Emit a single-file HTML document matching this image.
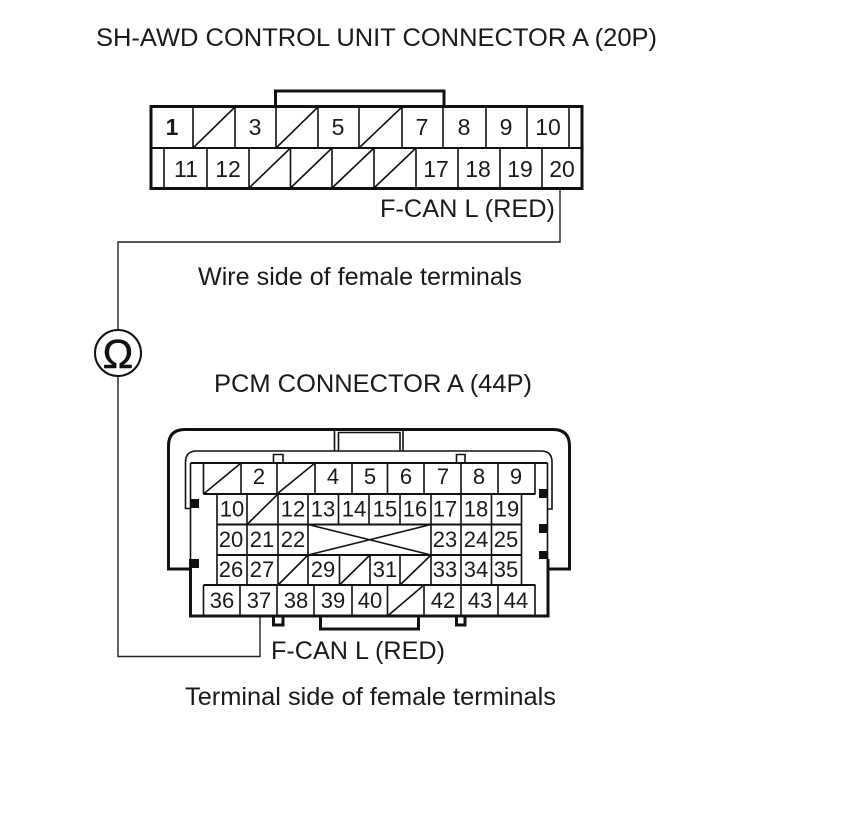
<!DOCTYPE html>
<html><head><meta charset="utf-8"><style>
html,body{margin:0;padding:0;background:#fff}
svg{display:block}
text{font-family:"Liberation Sans",Arial,sans-serif;fill:#1a1a1a}
.n{font-size:23px;text-anchor:middle}
.m{font-size:22px;text-anchor:middle}
.l{font-size:25px}
.t{stroke:#111;stroke-width:1.6;fill:none}
.w{stroke:#222;stroke-width:1.4;fill:none}
.h{stroke:#111;stroke-width:3;fill:none}
.b{stroke:#111;stroke-width:2;fill:none}
</style></head><body>
<svg width="860" height="838" viewBox="0 0 860 838" xmlns="http://www.w3.org/2000/svg">
<rect width="860" height="838" fill="#fff"/>
<text class="l" x="96" y="46" textLength="561" lengthAdjust="spacingAndGlyphs">SH-AWD CONTROL UNIT CONNECTOR A (20P)</text>

<!-- Top connector -->
<path class="h" d="M275.500 106V91H444V106"/>
<rect class="h" x="151" y="106.500" width="431" height="82"/>
<path class="b" d="M151 148H582"/>
<path class="t" d="M193 107V148M235 107V148M276 107V148M318 107V148M359 107V148M402 107V148M443 107V148M486 107V148M527 107V148M569 107V148"/>
<path class="t" d="M193 148L235 107M276 148L318 107M359 148L402 107"/>
<path class="t" d="M164 148V188M207 148V188M249 148V188M290.500 148V188M332 148V188M374 148V188M416 148V188M458 148V188M500 148V188M542 148V188"/>
<path class="t" d="M249 188L290.500 148M290.500 188L332 148M332 188L374 148M374 188L416 148"/>
<g>
<text class="n" x="172" y="135" font-weight="bold">1</text><text class="n" x="255" y="135">3</text><text class="n" x="338" y="135">5</text><text class="n" x="422" y="135">7</text><text class="n" x="464" y="135">8</text><text class="n" x="506" y="135">9</text><text class="n" x="548" y="135">10</text>
<text class="n" x="186" y="177">11</text><text class="n" x="228" y="177">12</text><text class="n" x="436" y="177">17</text><text class="n" x="478" y="177">18</text><text class="n" x="520" y="177">19</text><text class="n" x="562" y="177">20</text>
</g>
<text class="l" x="380" y="217" textLength="175" lengthAdjust="spacingAndGlyphs">F-CAN L (RED)</text>
<text class="l" x="198" y="285" textLength="324" lengthAdjust="spacingAndGlyphs">Wire side of female terminals</text>

<!-- Wire and meter -->
<path class="w" d="M560 190V242H118V330M118 376V656.500H260V617"/>
<circle cx="118" cy="353" r="23" fill="#fff" stroke="#111" stroke-width="2"/>
<text x="118" y="368" font-size="41" text-anchor="middle" style="font-family:'Liberation Sans',sans-serif;fill:#111;stroke:#111;stroke-width:.5">Ω</text>

<text class="l" x="214" y="392" textLength="318" lengthAdjust="spacingAndGlyphs">PCM CONNECTOR A (44P)</text>

<!-- PCM outer shell -->
<path class="h" d="M190 569H168.500V446Q168.500 429.500 185 429.500H553Q569.500 429.500 569.500 446V569H548"/>
<path class="t" d="M190 508.500H185.500V462Q185.500 451 197 451H541Q552 451 552 462V509H548"/>
<path class="t" d="M334.500 429.500V451M403 429.500V451M338.500 451V432.500H400V451" />
<path class="t" d="M273.500 463V454.500H283V463M456.500 463V454.500H465V463"/>
<path class="b" d="M190.500 463H547.500"/>
<path class="t" d="M190.500 463V559"/><path class="h" d="M190.500 559V616H548V559"/>
<path class="t" d="M547.500 463V559"/>
<path class="h" d="M320.500 616V629H418.500V616"/>
<path class="h" d="M273.500 616V625H283V616M456.500 616V625H465V616"/>
<rect x="191" y="499" width="8" height="9" fill="#111"/><rect x="191" y="559" width="8" height="9" fill="#111"/>
<rect x="539" y="489" width="9" height="9" fill="#111"/><rect x="539" y="524" width="9" height="9" fill="#111"/><rect x="539" y="551" width="9" height="8" fill="#111"/>

<!-- PCM grid -->
<path class="b" d="M203.500 494H535.500M217 524.500H521.500M217 555H521.500M203.500 585H535.500"/>
<path class="t" d="M203.500 463V494M241 463V494M277 463V494M315 463V494M352 463V494M387.500 463V494M424 463V494M461 463V494M498 463V494M535 463V494"/>
<path class="t" d="M203.500 494L241 463M277 494L315 463"/>
<path class="t" d="M217 494V585M247 494V585M278 494V585M308 494V585M338.500 494V524.500M369 494V524.500M400 494V524.500M431 494V585M461 494V585M491.500 494V585M521.500 494V585"/>
<path class="t" d="M339.500 555V585M370 555V585M400 555V585"/>
<path class="t" d="M247 524.500L278 494M308 524.500L431 555M308 555L431 524.500M278 585L308 555M339.500 585L370 555M400 585L431 555"/>
<path class="t" d="M203.500 585V616M240 585V616M277 585V616M314 585V616M352 585V616M387.500 585V616M424 585V616M461 585V616M498 585V616M535 585V616"/>
<path class="t" d="M387.500 616L424 585"/>

<g>
<text class="m" x="259" y="484">2</text><text class="m" x="333" y="484">4</text><text class="m" x="370" y="484">5</text><text class="m" x="406" y="484">6</text><text class="m" x="443" y="484">7</text><text class="m" x="479" y="484">8</text><text class="m" x="516" y="484">9</text>
<text class="m" x="232" y="516.500">10</text><text class="m" x="293" y="516.500">12</text><text class="m" x="323" y="516.500">13</text><text class="m" x="354" y="516.500">14</text><text class="m" x="385" y="516.500">15</text><text class="m" x="415" y="516.500">16</text><text class="m" x="445" y="516.500">17</text><text class="m" x="476" y="516.500">18</text><text class="m" x="507" y="516.500">19</text>
<text class="m" x="231" y="547">20</text><text class="m" x="262" y="547">21</text><text class="m" x="293" y="547">22</text><text class="m" x="445" y="547">23</text><text class="m" x="476" y="547">24</text><text class="m" x="506" y="547">25</text>
<text class="m" x="231" y="577">26</text><text class="m" x="262" y="577">27</text><text class="m" x="323" y="577">29</text><text class="m" x="385" y="577">31</text><text class="m" x="445" y="577">33</text><text class="m" x="476" y="577">34</text><text class="m" x="506" y="577">35</text>
<text class="m" x="222" y="608">36</text><text class="m" x="259" y="608">37</text><text class="m" x="296" y="608">38</text><text class="m" x="333" y="608">39</text><text class="m" x="370" y="608">40</text><text class="m" x="443" y="608">42</text><text class="m" x="480" y="608">43</text><text class="m" x="516" y="608">44</text>
</g>
<text class="l" x="271" y="659" textLength="174" lengthAdjust="spacingAndGlyphs">F-CAN L (RED)</text>
<text class="l" x="185" y="705" textLength="371" lengthAdjust="spacingAndGlyphs">Terminal side of female terminals</text>
</svg>
</body></html>
